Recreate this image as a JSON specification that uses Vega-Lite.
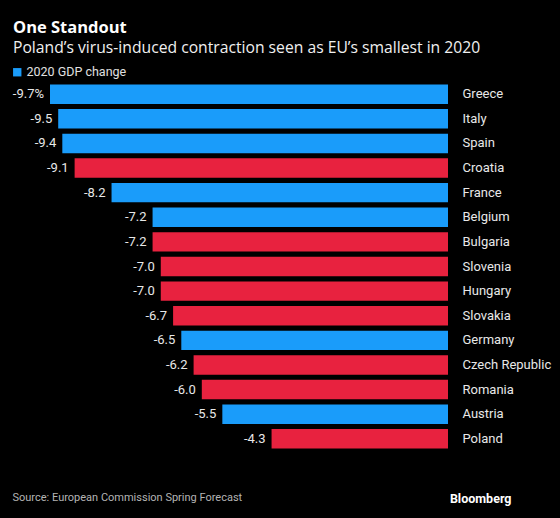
{
  "$schema": "https://vega.github.io/schema/vega-lite/v6.json",
  "autosize": {"type": "none"},
  "width": 398,
  "height": 369,
  "padding": {"left": 50, "top": 82, "right": 112, "bottom": 67},
  "background": "#000000",
  "title": {
    "text": "One Standout",
    "subtitle": "Poland’s virus-induced contraction seen as EU’s smallest in 2020",
    "anchor": "start",
    "frame": "group",
    "dx": -37,
    "offset": 10,
    "font": "Open Sans",
    "fontSize": 16.5,
    "fontWeight": "bold",
    "color": "#ffffff",
    "subtitleFont": "Open Sans",
    "subtitleFontSize": 15.7,
    "subtitleColor": "#f0f0f0",
    "subtitlePadding": 5
  },
  "data": {
    "values": [
      {"country": "Greece", "change": -9.7, "label": "-9.7%", "group": "2020 GDP change"},
      {"country": "Italy", "change": -9.5, "label": "-9.5", "group": "2020 GDP change"},
      {"country": "Spain", "change": -9.4, "label": "-9.4", "group": "2020 GDP change"},
      {"country": "Croatia", "change": -9.1, "label": "-9.1", "group": "CEE"},
      {"country": "France", "change": -8.2, "label": "-8.2", "group": "2020 GDP change"},
      {"country": "Belgium", "change": -7.2, "label": "-7.2", "group": "2020 GDP change"},
      {"country": "Bulgaria", "change": -7.2, "label": "-7.2", "group": "CEE"},
      {"country": "Slovenia", "change": -7.0, "label": "-7.0", "group": "CEE"},
      {"country": "Hungary", "change": -7.0, "label": "-7.0", "group": "CEE"},
      {"country": "Slovakia", "change": -6.7, "label": "-6.7", "group": "CEE"},
      {"country": "Germany", "change": -6.5, "label": "-6.5", "group": "2020 GDP change"},
      {"country": "Czech Republic", "change": -6.2, "label": "-6.2", "group": "CEE"},
      {"country": "Romania", "change": -6.0, "label": "-6.0", "group": "CEE"},
      {"country": "Austria", "change": -5.5, "label": "-5.5", "group": "2020 GDP change"},
      {"country": "Poland", "change": -4.3, "label": "-4.3", "group": "CEE"}
    ]
  },
  "encoding": {
    "y": {
      "field": "country",
      "type": "nominal",
      "sort": null,
      "scale": {"paddingInner": 0.21, "paddingOuter": 0.1},
      "axis": {
        "orient": "right",
        "title": "Bloomberg",
        "titleAngle": 0,
        "titleX": 63,
        "titleY": 416,
        "titleAlign": "right",
        "titleBaseline": "middle",
        "titleFont": "Roboto",
        "titleFontWeight": "bold",
        "titleFontSize": 12.5,
        "titleColor": "#ffffff",
        "domain": false,
        "ticks": false,
        "labelPadding": 14,
        "labelFont": "Roboto",
        "labelFontSize": 13,
        "labelColor": "#e8e8e8"
      }
    }
  },
  "layer": [
    {
      "mark": {"type": "bar"},
      "encoding": {
        "x": {
          "field": "change",
          "type": "quantitative",
          "scale": {"domain": [-9.7, 0], "nice": false, "zero": true},
          "axis": {
            "title": "Source: European Commission Spring Forecast",
            "titleX": -38,
            "titleY": 46,
            "titleAlign": "left",
            "titleAnchor": "start",
            "titleBaseline": "middle",
            "titleFont": "Roboto",
            "titleFontWeight": "normal",
            "titleFontSize": 11,
            "titleColor": "#b4b4b4",
            "domain": false,
            "ticks": false,
            "labels": false,
            "grid": false
          }
        },
        "color": {
          "field": "group",
          "type": "nominal",
          "scale": {"domain": ["2020 GDP change", "CEE"], "range": ["#1a9cfa", "#e8223f"]},
          "legend": {
            "values": ["2020 GDP change"],
            "title": null,
            "orient": "none",
            "legendX": -39,
            "legendY": -16,
            "symbolType": "square",
            "symbolSize": 70,
            "symbolStrokeWidth": 0,
            "labelFont": "Roboto",
            "labelFontSize": 12.5,
            "labelColor": "#e0e0e0",
            "labelOffset": 3
          }
        }
      }
    },
    {
      "mark": {"type": "text", "align": "right", "baseline": "middle", "dx": -6, "font": "Roboto", "fontSize": 13, "color": "#e8e8e8"},
      "encoding": {
        "x": {"field": "change", "type": "quantitative"},
        "text": {"field": "label", "type": "nominal"}
      }
    }
  ],
  "config": {
    "view": {"stroke": null}
  }
}
